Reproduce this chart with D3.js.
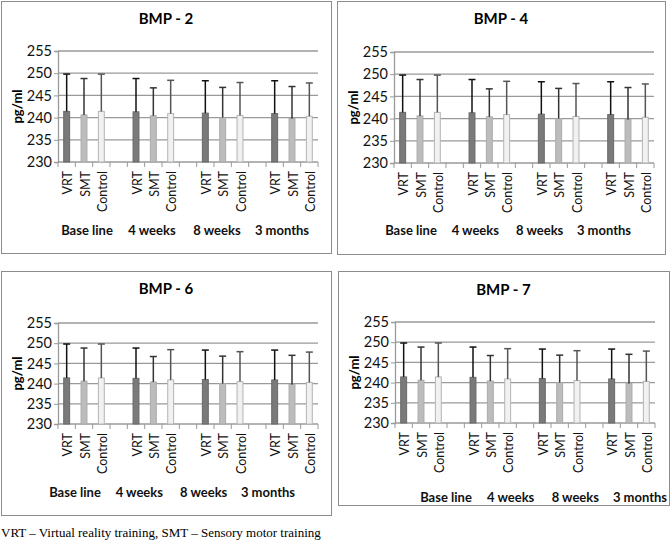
<!DOCTYPE html>
<html>
<head>
<meta charset="utf-8">
<script src="https://cdn.jsdelivr.net/npm/d3@7"></script>
<style>
  body { margin: 0; background: #fff; }
  svg { display: block; }
</style>
</head>
<body>
<svg id="chart" width="670" height="549"></svg>
<script>
// data (all four panels show the same values)
const panelTitles = ["BMP - 2", "BMP - 4", "BMP - 6", "BMP - 7"];
const periods = ["Base line", "4 weeks", "8 weeks", "3 months"];
const groups = ["VRT", "SMT", "Control"];
const vrtMean = [241.4, 241.3, 241.0, 240.9];
const vrtSd = [8.4, 7.5, 7.3, 7.4];
const smtMean = [240.6, 240.4, 240.0, 239.8];
const smtSd = [8.2, 6.3, 6.8, 7.2];
const controlMean = [241.4, 240.9, 240.5, 240.3];
const controlSd = [8.4, 7.5, 7.4, 7.5];
const yTicks = [230, 235, 240, 245, 250, 255];
const footnote = "VRT \u2013 Virtual reality training, SMT \u2013 Sensory motor training";

const means = { VRT: vrtMean, SMT: smtMean, Control: controlMean };
const sds = { VRT: vrtSd, SMT: smtSd, Control: controlSd };
const fills = { VRT: "#7a7a7a", SMT: "#bcbcbc", Control: "#f1f1f1" };
const strokes = { VRT: "#6a6a6a", SMT: "#ababab", Control: "#b5b5b5" };
const errColor = { VRT: "#111", SMT: "#333", Control: "#555" };

// panel frames and inner plot boxes
const panels = [
  { box: [1, 1, 330, 252], plot: [58, 51, 260, 111], titleY: 18, groupY: 230, lab: [29, 224] },
  { box: [337, 1, 328, 253], plot: [394, 52, 260, 111], titleY: 18, groupY: 230, lab: [17, 210] },
  { box: [1, 271, 330, 244], plot: [58, 323, 260, 101], titleY: 288, groupY: 492, lab: [17, 210] },
  { box: [338, 271, 331, 234], plot: [395, 322, 260, 101], titleY: 289, groupY: 497, lab: [51, 245] }
];

const font = "Lato, 'Open Sans', sans-serif";
const svg = d3.select("#chart");

// one slot per bar, spacer slot between time points
const slots = [];
periods.forEach((p, i) => {
  groups.forEach(g => slots.push({ key: i + "-" + g, period: i, group: g }));
  if (i < periods.length - 1) slots.push({ key: i + "-gap", period: i, group: null });
});

panels.forEach((pn, pi) => {
  const [bx, by, bw, bh] = pn.box;
  const [px, py, pw, ph] = pn.plot;

  svg.append("rect")
    .attr("x", bx + 0.5).attr("y", by + 0.5)
    .attr("width", bw).attr("height", bh)
    .attr("fill", "#fff").attr("stroke", "#8c8c8c").attr("stroke-width", 1);

  svg.append("text")
    .attr("x", bx + bw / 2).attr("y", pn.titleY)
    .attr("text-anchor", "middle").attr("dominant-baseline", "central")
    .style("font-family", font).style("font-weight", "bold").style("font-size", "15px")
    .text(panelTitles[pi]);

  const x = d3.scaleBand().domain(slots.map(s => s.key)).range([0, pw])
    .paddingInner(0.6).paddingOuter(0.3);
  const y = d3.scaleLinear().domain([230, 255]).range([ph, 0]);

  const g = svg.append("g").attr("transform", `translate(${px},${py})`);

  // gridlines
  g.selectAll(".grid").data(yTicks).join("line")
    .attr("class", "grid")
    .attr("x1", 0).attr("x2", pw)
    .attr("y1", d => y(d)).attr("y2", d => y(d))
    .attr("stroke", "#9a9a9a").attr("stroke-width", 1.3);

  // y axis
  const yAxis = d3.axisLeft(y).tickValues(yTicks).tickSize(4).tickPadding(2);
  const ya = g.append("g").call(yAxis);
  ya.select(".domain").attr("stroke", "#9a9a9a").attr("stroke-width", 1.3);
  ya.selectAll(".tick line").attr("stroke", "#9a9a9a");
  ya.selectAll(".tick text")
    .style("font-family", font).style("font-size", "14.5px").attr("fill", "#111");

  // bottom tick marks between slots
  const step = x.step();
  const bounds = slots.map(s => x(s.key) - x.paddingInner() * step / 2);
  bounds.push(x(slots[slots.length - 1].key) + x.bandwidth() + x.paddingInner() * step / 2);
  g.selectAll(".xtick").data(bounds).join("line")
    .attr("class", "xtick")
    .attr("x1", d => d).attr("x2", d => d)
    .attr("y1", ph).attr("y2", ph + 5)
    .attr("stroke", "#9a9a9a").attr("stroke-width", 1);

  const barSlots = slots.filter(s => s.group);

  // bars
  g.selectAll(".bar").data(barSlots).join("rect")
    .attr("class", "bar")
    .attr("x", d => x(d.key) + 0.5)
    .attr("width", x.bandwidth() - 1)
    .attr("y", d => y(means[d.group][d.period]))
    .attr("height", d => ph - y(means[d.group][d.period]))
    .attr("fill", d => fills[d.group])
    .attr("stroke", d => strokes[d.group]).attr("stroke-width", 1);

  // error bars (upper only)
  const cx = d => x(d.key) + x.bandwidth() / 2;
  const top = d => y(means[d.group][d.period] + sds[d.group][d.period]);
  g.selectAll(".err").data(barSlots).join("line")
    .attr("class", "err")
    .attr("x1", cx).attr("x2", cx)
    .attr("y1", d => y(means[d.group][d.period])).attr("y2", top)
    .attr("stroke", d => errColor[d.group]).attr("stroke-width", 1.5);
  g.selectAll(".cap").data(barSlots).join("line")
    .attr("class", "cap")
    .attr("x1", d => cx(d) - 3.5).attr("x2", d => cx(d) + 3.5)
    .attr("y1", top).attr("y2", top)
    .attr("stroke", d => errColor[d.group]).attr("stroke-width", 1.5);

  // category labels (rotated)
  g.selectAll(".cat").data(barSlots).join("text")
    .attr("class", "cat")
    .attr("transform", d => `translate(${cx(d) + 1},${ph + 9}) rotate(-90)`)
    .attr("text-anchor", "end").attr("dominant-baseline", "central")
    .style("font-family", font).style("font-size", "12.5px").attr("fill", "#111")
    .text(d => d.group);

  // period labels
  const lx = d3.scalePoint().domain(periods).range(pn.lab);
  g.selectAll(".period").data(periods).join("text")
    .attr("class", "period")
    .attr("x", d => lx(d)).attr("y", pn.groupY - py)
    .attr("text-anchor", "middle").attr("dominant-baseline", "central")
    .style("font-family", font).style("font-weight", "bold").style("font-size", "13px")
    .attr("fill", "#111")
    .text(d => d);

  // y axis title
  svg.append("text")
    .attr("transform", `translate(${bx + 16},${py + ph / 2}) rotate(-90)`)
    .attr("text-anchor", "middle").attr("dominant-baseline", "central")
    .style("font-family", font).style("font-weight", "bold").style("font-size", "13px")
    .text("pg/ml");
});

svg.append("text")
  .attr("x", 1).attr("y", 537)
  .style("font-family", "'Liberation Serif', 'Times New Roman', serif").style("font-size", "13px")
  .text(footnote);
</script>
</body>
</html>
